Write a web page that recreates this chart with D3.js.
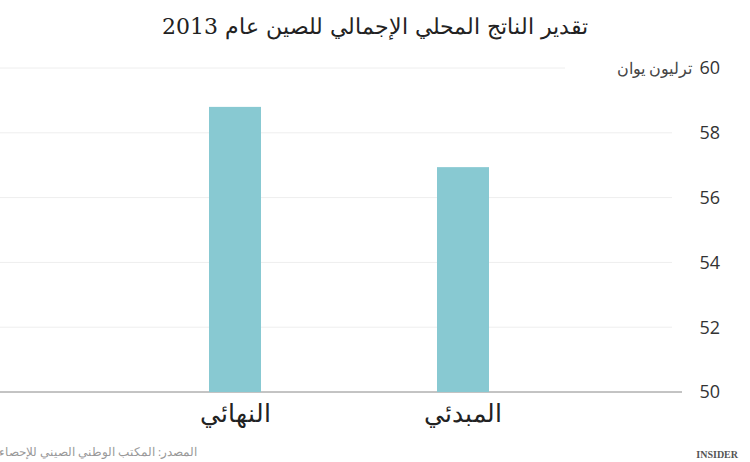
<!DOCTYPE html>
<html><head><meta charset="utf-8">
<script src="https://cdn.jsdelivr.net/npm/d3@7"></script>
<style>body{margin:0;background:#fff}</style>
</head><body><div id="chart"></div>
<script>
const categories = ["النهائي", "المبدئي"];
const values = [58.8, 56.94];
const yTicks = [50, 52, 54, 56, 58, 60];

const width = 750, height = 462;
const svg = d3.select("#chart").append("svg").attr("width", width).attr("height", height);

const x = d3.scalePoint().domain(categories).range([235, 463]);
const y = d3.scaleLinear().domain([50, 60]).range([392, 68]);
const barW = 52;

// gridlines
svg.selectAll("line.grid").data(yTicks).enter().append("line")
  .attr("x1", 0).attr("x2", d => d === 60 ? 565 : (d === 50 ? 682 : 672))
  .attr("y1", d => y(d)).attr("y2", d => y(d))
  .attr("stroke", d => d === 50 ? "#888" : "#eee").attr("stroke-width", 1);

svg.selectAll("text.tick").data(yTicks).enter().append("text")
  .attr("x", 720).attr("y", d => y(d)).attr("dy", "0.35em")
  .attr("text-anchor", "end").attr("font-family", "Open Sans, sans-serif")
  .attr("font-size", 18).attr("fill", "#333").text(d => d);

svg.append("text").attr("x", 692).attr("y", y(60)).attr("dy", "0.35em")
  .attr("text-anchor", "end").attr("font-family", "Noto Sans, sans-serif")
  .attr("font-size", 16).attr("fill", "#444").text("ترليون يوان");

svg.selectAll("rect.bar").data(values).enter().append("rect")
  .attr("x", (d, i) => x(categories[i]) - barW / 2).attr("width", barW)
  .attr("y", d => y(d)).attr("height", d => y(50) - y(d))
  .attr("fill", "#88c9d2");

svg.selectAll("text.cat").data(categories).enter().append("text")
  .attr("x", d => x(d)).attr("y", 422).attr("text-anchor", "middle")
  .attr("font-family", "DejaVu Serif, serif").attr("font-size", 25).attr("fill", "#222")
  .text(d => d);

svg.append("text").attr("x", 375).attr("y", 34).attr("text-anchor", "middle")
  .attr("font-family", "DejaVu Serif, serif").attr("font-size", 22).attr("fill", "#222")
  .text("تقدير الناتج المحلي الإجمالي للصين عام 2013");

svg.append("text").attr("x", 197).attr("y", 456).attr("text-anchor", "end")
  .attr("font-family", "Noto Sans, sans-serif").attr("font-size", 11.5).attr("fill", "#999")
  .text("المصدر: المكتب الوطني الصيني للإحصاء");

svg.append("text").attr("x", 738).attr("y", 458).attr("text-anchor", "end")
  .attr("font-family", "Liberation Serif, serif").attr("font-size", 10).attr("font-weight", "bold")
  .attr("fill", "#555").text("INSIDER");
</script></body></html>
